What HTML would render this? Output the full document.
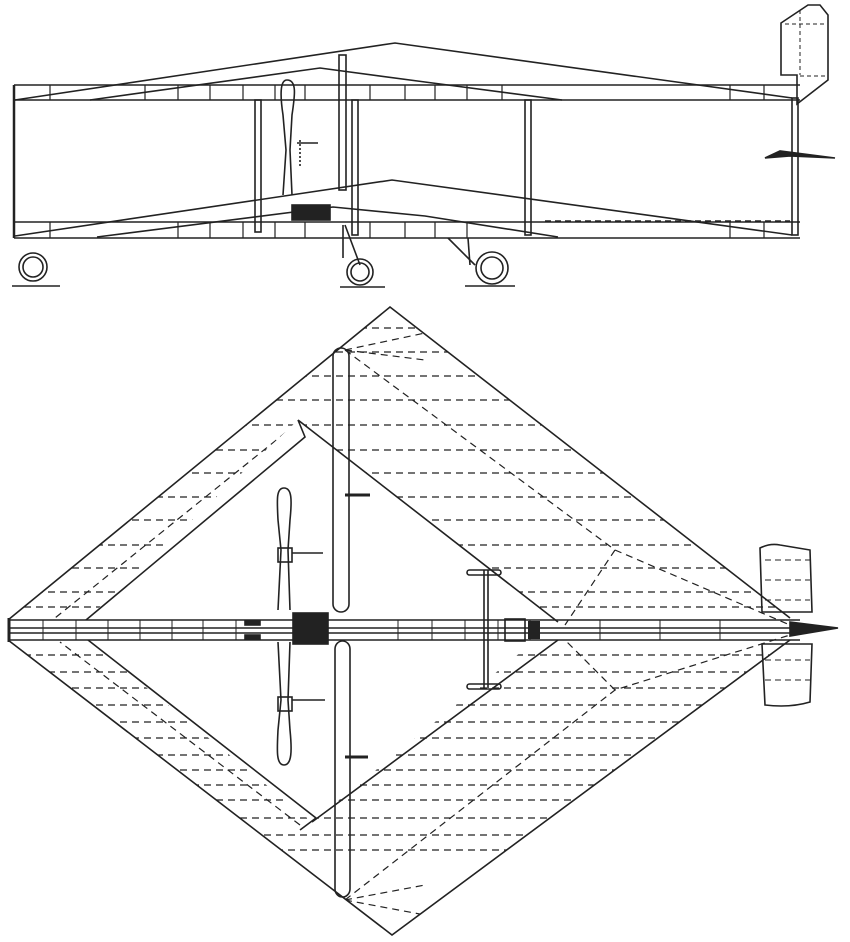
<!DOCTYPE html>
<html><head><meta charset="utf-8"><style>html,body{margin:0;padding:0;background:#fff;}svg{display:block}</style></head>
<body>
<svg width="850" height="942" viewBox="0 0 850 942" xmlns="http://www.w3.org/2000/svg">
<defs>
<clipPath id="wing"><path clip-rule="evenodd" d="M8,620 L390,307 L790,618 L790,640 L392,935 L8,640 Z M298,420 L558,622 L312,822 L88,640 L86,620 Z"/></clipPath>
</defs>
<g fill="none" stroke="#222" stroke-width="1.6">
<!-- SIDE VIEW -->
<line x1="14" y1="85" x2="800" y2="85"/>
<line x1="14" y1="100" x2="800" y2="100"/>
<line x1="14" y1="222" x2="800" y2="222"/>
<line x1="14" y1="238" x2="800" y2="238"/>
<line x1="14" y1="85" x2="14" y2="238" stroke-width="2.5"/>
<polyline points="15,100 395,43 792,98"/>
<polyline points="90,100 320,68 425,82 562,100"/>
<polyline points="15,236 392,180 792,235"/>
<polyline points="97,237 333,207 425,216 558,237"/>
<g stroke-width="1.2">
<line x1="50" y1="85" x2="50" y2="100"/><line x1="145" y1="85" x2="145" y2="100"/><line x1="178" y1="85" x2="178" y2="100"/><line x1="210" y1="85" x2="210" y2="100"/><line x1="243" y1="85" x2="243" y2="100"/><line x1="275" y1="85" x2="275" y2="100"/><line x1="305" y1="85" x2="305" y2="100"/><line x1="370" y1="85" x2="370" y2="100"/><line x1="405" y1="85" x2="405" y2="100"/><line x1="435" y1="85" x2="435" y2="100"/><line x1="467" y1="85" x2="467" y2="100"/><line x1="502" y1="85" x2="502" y2="100"/><line x1="730" y1="85" x2="730" y2="100"/><line x1="764" y1="85" x2="764" y2="100"/>
<line x1="50" y1="222" x2="50" y2="238"/><line x1="178" y1="222" x2="178" y2="238"/><line x1="210" y1="222" x2="210" y2="238"/><line x1="243" y1="222" x2="243" y2="238"/><line x1="275" y1="222" x2="275" y2="238"/><line x1="305" y1="222" x2="305" y2="238"/><line x1="370" y1="222" x2="370" y2="238"/><line x1="405" y1="222" x2="405" y2="238"/><line x1="435" y1="222" x2="435" y2="238"/><line x1="467" y1="222" x2="467" y2="238"/><line x1="730" y1="222" x2="730" y2="238"/><line x1="764" y1="222" x2="764" y2="238"/>
</g>
<rect x="255" y="100" width="6" height="132"/>
<rect x="339" y="55" width="7" height="135"/>
<rect x="352" y="100" width="6" height="135"/>
<rect x="525" y="100" width="6" height="135"/>
<rect x="792" y="98" width="6" height="137"/>
<path d="M287,80 C297,80 295,95 292,115 L290,150 L292,195 M287,80 C280,80 280,95 283,115 L286,150 L283,195"/>
<line x1="297" y1="143" x2="318" y2="143"/>
<line x1="300" y1="140" x2="300" y2="168" stroke-dasharray="2,2"/>
<rect x="292" y="205" width="38" height="15" fill="#222"/>
<line x1="545" y1="221" x2="790" y2="221" stroke-dasharray="6,4"/>
<line x1="343" y1="225" x2="343" y2="258"/>
<line x1="345" y1="225" x2="360" y2="265"/>
<line x1="448" y1="238" x2="475" y2="265"/><line x1="468" y1="238" x2="470" y2="265"/>
<circle cx="33" cy="267" r="14"/><circle cx="33" cy="267" r="10"/>
<circle cx="360" cy="272" r="13"/><circle cx="360" cy="272" r="9"/>
<circle cx="492" cy="268" r="16"/><circle cx="492" cy="268" r="11"/>
<line x1="12" y1="286" x2="60" y2="286"/><line x1="340" y1="287" x2="385" y2="287"/><line x1="465" y1="286" x2="515" y2="286"/>
<path d="M781,23 L781,75 L797,75 L797,104 L828,80 L828,15 L820,5 L808,5 Z"/>
<path d="M785,24 L826,24 M800,10 L800,75 M800,76 L826,76" stroke-dasharray="4,3" stroke-width="1"/>
<path d="M765,158 L780,151 L835,158 L790,156 Z" fill="#222"/>
<!-- PLAN VIEW -->
<path d="M8,620 L390,307 L790,618 M8,640 L392,935 L790,640"/>
<path d="M298,420 L305,437 L86,620 M298,420 L558,622 M88,640 L316,818 L300,830 M312,822 L558,640"/>
<g clip-path="url(#wing)" stroke-dasharray="7,5" stroke-width="1.2">
<line x1="0" y1="328" x2="850" y2="328"/><line x1="0" y1="352" x2="850" y2="352"/><line x1="0" y1="376" x2="850" y2="376"/><line x1="0" y1="400" x2="850" y2="400"/><line x1="0" y1="425" x2="850" y2="425"/><line x1="0" y1="450" x2="850" y2="450"/><line x1="0" y1="473" x2="850" y2="473"/><line x1="0" y1="497" x2="850" y2="497"/><line x1="0" y1="520" x2="850" y2="520"/><line x1="0" y1="545" x2="850" y2="545"/><line x1="0" y1="568" x2="850" y2="568"/><line x1="0" y1="592" x2="850" y2="592"/><line x1="0" y1="607" x2="850" y2="607"/>
<line x1="0" y1="655" x2="850" y2="655"/><line x1="0" y1="672" x2="850" y2="672"/><line x1="0" y1="688" x2="850" y2="688"/><line x1="0" y1="705" x2="850" y2="705"/><line x1="0" y1="722" x2="850" y2="722"/><line x1="0" y1="738" x2="850" y2="738"/><line x1="0" y1="755" x2="850" y2="755"/><line x1="0" y1="770" x2="850" y2="770"/><line x1="0" y1="785" x2="850" y2="785"/><line x1="0" y1="800" x2="850" y2="800"/><line x1="0" y1="818" x2="850" y2="818"/><line x1="0" y1="835" x2="850" y2="835"/><line x1="0" y1="850" x2="850" y2="850"/>
<polyline points="345,350 615,550 790,625"/>
<polyline points="345,900 615,690 790,635"/>
<line x1="615" y1="550" x2="565" y2="625"/>
<line x1="615" y1="690" x2="565" y2="640"/>
<line x1="295" y1="425" x2="55" y2="618"/>
<line x1="300" y1="825" x2="60" y2="642"/>
<line x1="345" y1="350" x2="425" y2="333"/><line x1="345" y1="350" x2="425" y2="360"/>
<line x1="345" y1="900" x2="425" y2="915"/><line x1="345" y1="900" x2="425" y2="885"/>
</g>
<!-- fuselage -->
<line x1="8" y1="620" x2="800" y2="620"/>
<line x1="8" y1="628" x2="800" y2="628"/>
<line x1="8" y1="633" x2="800" y2="633"/>
<line x1="8" y1="640" x2="800" y2="640"/>
<line x1="9" y1="618" x2="9" y2="642" stroke-width="3"/>
<g stroke-width="1"><line x1="43" y1="620" x2="43" y2="640"/><line x1="76" y1="620" x2="76" y2="640"/><line x1="108" y1="620" x2="108" y2="640"/><line x1="140" y1="620" x2="140" y2="640"/><line x1="172" y1="620" x2="172" y2="640"/><line x1="203" y1="620" x2="203" y2="640"/><line x1="236" y1="620" x2="236" y2="640"/><line x1="398" y1="620" x2="398" y2="640"/><line x1="432" y1="620" x2="432" y2="640"/><line x1="465" y1="620" x2="465" y2="640"/><line x1="498" y1="620" x2="498" y2="640"/><line x1="530" y1="620" x2="530" y2="640"/><line x1="600" y1="620" x2="600" y2="640"/><line x1="660" y1="620" x2="660" y2="640"/><line x1="720" y1="620" x2="720" y2="640"/></g>
<path d="M790,622 L838,628 L790,636 Z" fill="#222"/>
<rect x="293" y="613" width="35" height="31" fill="#222"/>
<rect x="245" y="621" width="15" height="4" fill="#222"/><rect x="245" y="635" width="15" height="4" fill="#222"/>
<rect x="505" y="619" width="20" height="22"/>
<rect x="528" y="621" width="12" height="18" fill="#222" stroke="none"/>
<!-- big props -->
<rect x="333" y="348" width="16" height="264" rx="8"/>
<rect x="335" y="641" width="15" height="256" rx="8"/>
<line x1="345" y1="495" x2="370" y2="495" stroke-width="3"/>
<line x1="345" y1="757" x2="368" y2="757" stroke-width="3"/>
<!-- small props -->
<path d="M284,488 C292,488 292,500 290,520 L288,550 L290,610 M284,488 C276,488 277,500 278,520 L281,550 L278,610"/>
<path d="M284,765 C292,765 292,750 290,730 L288,700 L290,642 M284,765 C276,765 277,750 278,730 L281,700 L278,642"/>
<rect x="278" y="548" width="14" height="14"/><rect x="278" y="697" width="14" height="14"/>
<line x1="292" y1="553" x2="323" y2="553"/><line x1="292" y1="700" x2="325" y2="700"/>
<!-- crossbar -->
<line x1="484" y1="570" x2="484" y2="688"/><line x1="488" y1="570" x2="488" y2="688"/>
<rect x="467" y="570" width="34" height="5" rx="2.5"/><rect x="467" y="684" width="34" height="5" rx="2.5"/>
<!-- tail -->
<path d="M760,548 Q770,543 780,545 L810,550 L812,612 L762,612 Z"/>
<path d="M762,644 L812,644 L810,702 Q790,708 765,705 Z"/>
<g stroke-dasharray="6,4" stroke-width="1"><line x1="765" y1="560" x2="810" y2="560"/><line x1="765" y1="580" x2="810" y2="580"/><line x1="765" y1="600" x2="810" y2="600"/><line x1="765" y1="660" x2="810" y2="660"/><line x1="765" y1="680" x2="810" y2="680"/></g>
</g>
</svg>
</body></html>
